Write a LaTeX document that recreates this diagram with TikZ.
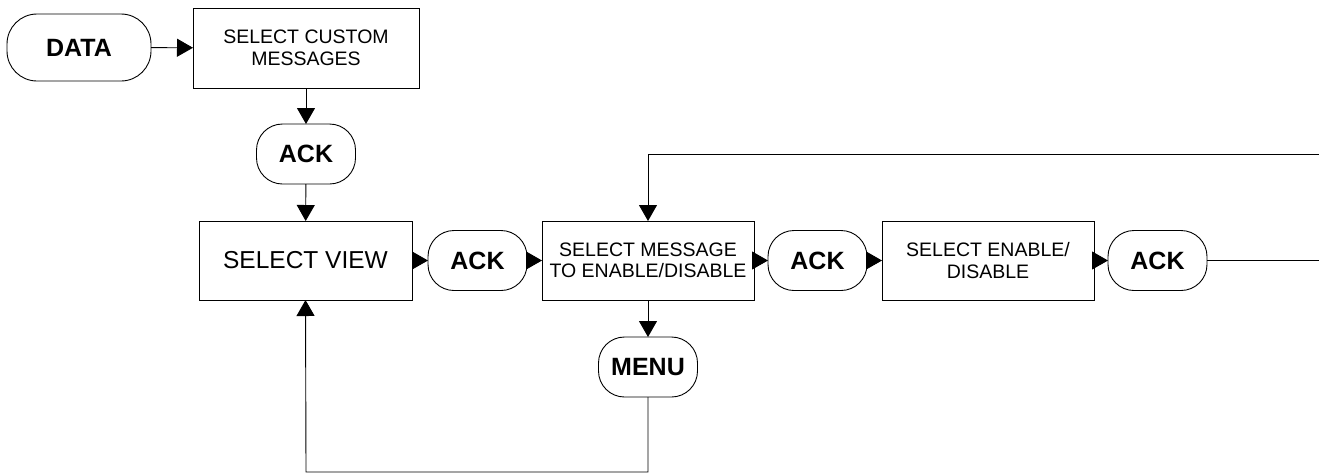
\documentclass[tikz,border=0pt]{standalone}
\usepackage{fontspec}
\setmainfont{Liberation Sans}
\usetikzlibrary{arrows.meta}
\begin{document}
\begin{tikzpicture}[x=1pt,y=1pt,
  every node/.style={inner sep=0pt, outer sep=0pt, line width=0.9pt},
  procbox/.style={draw, minimum width=212pt, minimum height=79pt, align=center,
    font=\fontsize{19.5}{21.5}\selectfont},
  term/.style={draw, rounded corners=26pt, minimum width=99pt, minimum height=60pt,
    font=\fontsize{25}{27}\selectfont\bfseries},
  conn/.style={line width=0.9pt, -{Triangle[length=16pt,width=18pt]}},
  plain/.style={line width=0.9pt}]
\useasboundingbox (0,0) rectangle (1319,-475);
\node[term, minimum width=144pt, minimum height=67pt, rounded corners=30pt] (data) at (79,-47.5) {DATA};
\node[procbox, minimum width=226pt, minimum height=80pt] (custom) at (306,-48) {SELECT CUSTOM\\MESSAGES};
\node[term] (ack1) at (306,-154) {ACK};
\node[procbox, minimum width=213pt, font=\fontsize{24.5}{27}\selectfont] (view) at (305.5,-260.5) {SELECT VIEW};
\node[term] (ack2) at (477.5,-260.5) {ACK};
\node[procbox] (msg) at (648,-260.5) {SELECT MESSAGE\\TO ENABLE/DISABLE};
\node[term] (ack3) at (817.5,-260.5) {ACK};
\node[procbox] (ena) at (988,-260.5) {SELECT ENABLE/\\DISABLE};
\node[term] (ack4) at (1157.5,-260.5) {ACK};
\node[term] (menu) at (648,-367) {MENU};
\coordinate (r1) at (1319,-260.5);
\coordinate (r2) at (1319,-154);
\coordinate (t1) at (648,-154);
\coordinate (b1) at (648,-472);
\coordinate (b2) at (306,-472);

\draw[conn] (data) -- (custom);
\draw[conn] (custom) -- (ack1);
\draw[conn] (ack1) -- (view);
\draw[conn] (view) -- (ack2);
\draw[conn] (ack2) -- (msg);
\draw[conn] (msg) -- (ack3);
\draw[conn] (ack3) -- (ena);
\draw[conn] (ena) -- (ack4);
\draw[conn] (msg) -- (menu);
\draw[plain] (ack4) -- (r1);
\draw[conn] (r2) -- (t1) -- (msg.north);
\draw[conn] (menu.south) -- (b1) -- (b2) -- (view.south);
\end{tikzpicture}
\end{document}
